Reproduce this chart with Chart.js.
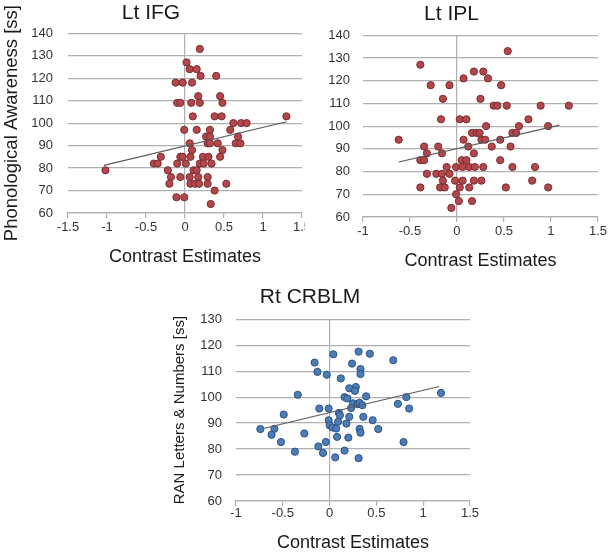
<!DOCTYPE html>
<html>
<head>
<meta charset="utf-8">
<script src="https://cdn.jsdelivr.net/npm/chart.js@4"></script>
<style>
  html, body { margin: 0; padding: 0; background: #fff; }
  body { width: 609px; height: 554px; position: relative; overflow: hidden; }
  .panel { position: absolute; overflow: hidden; }
  canvas { display: block; }
</style>
</head>
<body>
<div class="panel" style="left:0;top:0;width:305px;height:275px"><canvas id="ifg" width="320" height="275"></canvas></div>
<div class="panel" style="left:305px;top:0;width:304px;height:280px"><canvas id="ipl" width="304" height="280"></canvas></div>
<div class="panel" style="left:150px;top:270px;width:340px;height:284px"><canvas id="crb" width="340" height="284"></canvas></div>
<script>
// --- data (x = contrast estimate, y = standard score) ---
const ifgX = [0.19,0.02,0.06,0.15,0.2,0.4,-0.12,-0.03,0.09,0.17,0.45,-0.1,-0.06,0.08,0.19,0.48,
  0.1,0.38,0.47,1.3,0.62,0.72,0.79,-0.01,0.15,0.32,0.58,0.27,0.32,0.68,0.06,0.29,0.32,0.42,0.65,0.71,
  0.09,0.48,-0.31,-0.06,-0.03,0.07,0.23,0.3,0.45,-0.4,-0.35,-0.1,0.01,0.19,0.24,0.34,-1.02,-0.22,0.11,0.15,
  -0.18,-0.06,0.06,0.17,0.29,-0.2,0.07,0.13,0.18,0.29,0.53,0.38,-0.11,-0.01,0.33];
const ifgY = [133,127,124,124,121,121,118,118,118,112,112,109,109,109,109,109,
  103,103,103,103,100,100,100,97,97,97,97,94,94,94,91,91,91,91,91,91,
  88,88,85,85,85,85,85,85,85,82,82,82,82,82,82,82,79,79,79,79,
  76,76,76,76,76,73,73,73,73,73,73,70,67,67,64];
const ifgFit = { x: [-1.04, 1.3], y: [81.2, 100.6] };

const iplX = [0.54,-0.39,0.18,0.28,0.07,0.33,-0.28,-0.08,0.47,-0.15,0.25,
  0.39,0.43,0.53,0.89,1.19,-0.17,0.03,0.1,0.76,0.66,0.31,0.97,
  0.16,0.21,0.24,0.59,0.63,-0.62,0.07,0.26,0.3,0.46,-0.35,-0.2,0.12,0.37,0.57,
  -0.32,-0.16,0.18,-0.39,-0.35,0.05,0.1,0.46,-0.11,-0.01,0.06,0.13,0.19,0.28,0.59,0.83,
  -0.32,-0.22,-0.16,-0.08,-0.15,-0.02,0.06,0.18,0.26,0.8,
  -0.39,-0.18,-0.13,0.03,0.13,0.52,0.97,-0.01,0.02,0.16,-0.06];
const iplY = [133,127,124,124,121,121,118,118,118,112,112,
  109,109,109,109,109,103,103,103,103,100,100,100,
  97,97,97,97,97,94,94,94,94,94,91,91,91,91,91,
  88,88,88,85,85,85,85,85,82,82,82,82,82,82,82,82,
  79,79,79,79,76,76,76,76,76,76,
  73,73,73,73,73,73,73,70,67,67,64];
const iplFit = { x: [-0.62, 1.09], y: [84.2, 100.4] };

const crbX = [-0.16,-0.13,-0.03,0.04,0.31,0.43,0.24,0.33,0.33,0.68,0.12,0.21,0.28,0.27,-0.34,
  0.16,0.19,0.39,0.82,1.19,0.73,0.85,0.25,0.3,0.32,0.35,0.23,-0.11,-0.01,0.1,0.11,0.21,0.36,
  -0.49,0.46,-0.01,0.09,0,0.18,-0.74,-0.59,0.03,0.07,0.32,0.52,0.33,-0.27,-0.62,0.08,0.2,
  -0.52,-0.04,0.79,-0.12,-0.07,-0.37,0.16,0.06,0.31];
const crbY = [113.3,109.7,108.6,116.5,117.5,116.7,112.9,110.8,108.9,114.2,107.2,103.4,103.9,102.4,100.9,
  100,99.5,100.3,100,101.6,97.4,95.6,97.6,97.3,97.8,96.9,95.8,95.6,95.6,93.9,93,92.4,92.4,
  93.3,91.1,91.1,90.5,89.2,89.8,87.7,87.8,88.3,87.9,87.8,87.7,86.3,86,85.5,84.7,84.4,
  82.7,82.7,82.7,81,78.5,79,79.4,76.8,76.5];
const crbFit = { x: [-0.71, 1.17], y: [87.9, 104.1] };

const FONT = "'Liberation Sans', Arial, sans-serif";
const GRID = '#b0b0b0';
const TEXT = '#1a1a1a';
const TICK = '#333333';

function pts(xs, ys) { return xs.map((x, i) => ({ x, y: ys[i] })); }

function makePanel(id, o) {
  const ctx = document.getElementById(id).getContext('2d');
  return new Chart(ctx, {
    type: 'scatter',
    data: {
      datasets: [
        {
          data: pts(o.xs, o.ys),
          backgroundColor: o.fill, borderColor: o.edge, borderWidth: 1,
          pointRadius: 3.6, order: 2
        },
        {
          data: pts(o.fit.x, o.fit.y),
          showLine: true, borderColor: '#5a5a5a', borderWidth: 1.2,
          pointRadius: 0, order: 1
        }
      ]
    },
    options: {
      responsive: false, animation: false, devicePixelRatio: 1,
      layout: { padding: { top: o.padTop, right: o.padRight, left: 0, bottom: 0 } },
      plugins: {
        legend: { display: false },
        tooltip: { enabled: false },
        title: {
          display: true, text: o.title, color: TEXT,
          font: { family: FONT, size: 21, weight: 'normal' },
          padding: { top: o.titleTop, bottom: o.titleBottom }
        }
      },
      scales: {
        x: {
          min: o.xMin, max: 1.5,
          afterFit: s => { s.height = o.xH; },
          ticks: { stepSize: 0.5, maxRotation: 0, autoSkip: false, padding: o.xTickPad,
                   callback: v => String(v),
                   color: TICK, font: { family: FONT, size: 13 } },
          grid: {
            color: c => (c.tick && c.tick.value === 0 ? GRID : 'rgba(0,0,0,0)'),
            tickColor: GRID, tickLength: 5, lineWidth: 1.2
          },
          border: { display: true, color: GRID, width: 1.2 },
          title: { display: true, text: 'Contrast Estimates', color: TEXT,
                   font: { family: FONT, size: 18 }, padding: { top: 0, bottom: o.xTitlePad } }
        },
        y: {
          min: 60, max: o.yMax,
          afterFit: s => { s.width = o.yW; },
          ticks: { stepSize: 10, padding: o.yTickPad, color: TICK,
                   font: { family: FONT, size: 13 } },
          grid: { color: GRID, drawTicks: false, lineWidth: 1.2 },
          border: { display: false },
          title: { display: !!o.yTitle, text: o.yTitle || '', color: TEXT,
                   font: { family: FONT, size: o.yTitleSize || 18 },
                   padding: { top: o.yTitlePad || 0, bottom: 0 } }
        }
      }
    }
  });
}

makePanel('ifg', {
  title: 'Lt IFG', xs: ifgX, ys: ifgY, fit: ifgFit,
  fill: '#b3474b', edge: '#7a2a2d', xMin: -1.5, yMax: 140,
  padTop: 0, padRight: 18, titleTop: 1, titleBottom: 7,
  xH: 62, xTickPad: 2, xTitlePad: 7,
  yW: 68, yTickPad: 15,
  yTitle: 'Phonological Awareness [ss]', yTitleSize: 18.5, yTitlePad: 1
});

makePanel('ipl', {
  title: 'Lt IPL', xs: iplX, ys: iplY, fit: iplFit,
  fill: '#b3474b', edge: '#7a2a2d', xMin: -1, yMax: 140,
  padTop: 0, padRight: 11, titleTop: 2, titleBottom: 8,
  xH: 63, xTickPad: 2, xTitlePad: 8,
  yW: 58, yTickPad: 13
});

makePanel('crb', {
  title: 'Rt CRBLM', xs: crbX, ys: crbY, fit: crbFit,
  fill: '#4d7db6', edge: '#2c5184', xMin: -1, yMax: 130,
  padTop: 14, padRight: 20, titleTop: 1, titleBottom: 9,
  xH: 53, xTickPad: 0, xTitlePad: 0,
  yW: 86, yTickPad: 14,
  yTitle: 'RAN Letters & Numbers [ss]', yTitleSize: 15, yTitlePad: 21
});
</script>
</body>
</html>
